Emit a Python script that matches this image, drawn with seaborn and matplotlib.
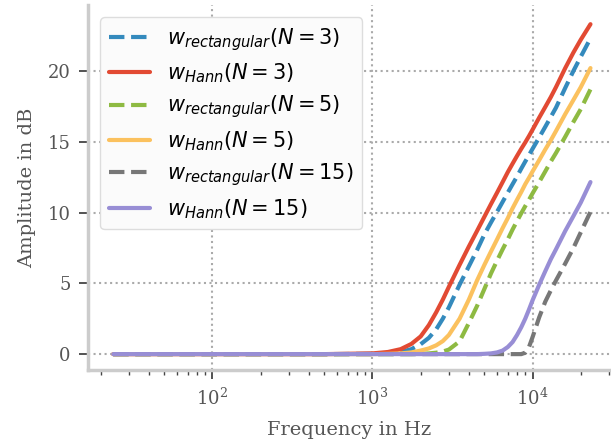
import numpy as np
import pandas as pd
import matplotlib
matplotlib.use("Agg")
import matplotlib.pyplot as plt
import seaborn as sns

# =========================
# DATA
# =========================
freq_hz = [24, 100, 500, 1000, 1250, 1500, 1750, 2000, 2250, 2500, 2750, 3000,
           3500, 4000, 4500, 5000, 5500, 6000, 6500, 7000, 7500, 8000, 8500,
           9000, 9500, 10000, 11000, 12000, 13000, 14000, 16000, 18000, 20000, 23000]

rect_n3 = [0, 0, 0, 0.02, 0.06, 0.15, 0.35, 0.7, 1.15, 1.75, 2.5, 3.3,
           4.9, 6.2, 7.35, 8.45, 9.3, 10.05, 10.75, 11.4, 12.0, 12.55, 13.1,
           13.6, 14.05, 14.5, 15.3, 16.05, 16.75, 17.4, 18.8, 20.0, 21.0, 22.3]
hann_n3 = [0, 0, 0, 0.05, 0.15, 0.35, 0.72, 1.25, 2.05, 2.95, 3.85, 4.75,
           6.3, 7.6, 8.7, 9.7, 10.6, 11.4, 12.15, 12.85, 13.45, 14.0, 14.5,
           14.95, 15.4, 15.85, 16.7, 17.45, 18.15, 18.85, 20.2, 21.3, 22.2, 23.3]
rect_n5 = [0, 0, 0, 0, 0, 0, 0, 0.02, 0.05, 0.1, 0.18, 0.32,
           0.9, 2.2, 3.4, 4.6, 5.7, 6.6, 7.4, 8.1, 8.8, 9.4, 9.95,
           10.45, 10.9, 11.35, 12.15, 12.9, 13.6, 14.2, 15.35, 16.4, 17.3, 18.7]
hann_n5 = [0, 0, 0, 0, 0.02, 0.05, 0.12, 0.25, 0.4, 0.62, 0.92, 1.35,
           2.5, 3.85, 5.2, 6.3, 7.25, 8.1, 8.9, 9.6, 10.3, 10.9, 11.45,
           12.0, 12.45, 12.9, 13.7, 14.45, 15.1, 15.75, 16.95, 17.95, 18.85, 20.2]
rect_n15 = [0, 0, 0, 0, 0, 0, 0, 0, 0, 0, 0, 0,
            0, 0, 0, 0, 0, 0, 0, 0, 0, 0, 0,
            0.1, 0.5, 1.2, 2.6, 3.7, 4.5, 5.2, 6.4, 7.5, 8.6, 10.05]
hann_n15 = [0, 0, 0, 0, 0, 0, 0, 0, 0, 0, 0, 0,
            0, 0, 0, 0.02, 0.05, 0.12, 0.25, 0.5, 0.85, 1.35, 1.9,
            2.5, 3.15, 3.8, 4.9, 5.85, 6.7, 7.4, 8.7, 9.75, 10.7, 12.15]

labels = [r"$w_{rectangular}(N=3)$", r"$w_{Hann}(N=3)$",
          r"$w_{rectangular}(N=5)$", r"$w_{Hann}(N=5)$",
          r"$w_{rectangular}(N=15)$", r"$w_{Hann}(N=15)$"]
series = [rect_n3, hann_n3, rect_n5, hann_n5, rect_n15, hann_n15]
colors = ["#348ABD", "#E24A33", "#8EBA42", "#FBC15E", "#777777", "#988ED5"]
styles = ["--", "-", "--", "-", "--", "-"]

# =========================
# STYLE
# =========================
sns.set_theme(style="ticks")
plt.rcParams["font.family"] = ["DejaVu Serif"]
plt.rcParams["mathtext.fontset"] = "dejavusans"

fig = plt.figure(figsize=(6.11, 4.47), dpi=100)
ax = fig.add_axes([0.144, 0.172, 0.856, 0.817])

for vals, lab, col, ls in zip(series, labels, colors, styles):
    sns.lineplot(x=freq_hz, y=vals, ax=ax, color=col, linestyle=ls,
                 linewidth=3.0, label=lab)

ax.set_xscale("log")
ax.set_xlim(16.7, 30900)
ax.set_ylim(-1.13, 24.66)
ax.set_yticks([0, 5, 10, 15, 20])

ax.grid(True, which="major", linestyle=":", color="#aaaaaa", linewidth=1.5)
ax.set_axisbelow(True)

for side in ["top", "right"]:
    ax.spines[side].set_visible(False)
for side in ["left", "bottom"]:
    ax.spines[side].set_color("#cccccc")
    ax.spines[side].set_linewidth(2.5)

ax.tick_params(axis="both", which="major", labelsize=13, colors="#444444",
               labelcolor="#555555", length=6.5, width=1.3, pad=6)
ax.tick_params(axis="x", which="minor", length=3.5, width=1.0, colors="#444444")

ax.set_xlabel("Frequency in Hz", fontsize=14, color="#555555", labelpad=9)
ax.set_ylabel("Amplitude in dB", fontsize=14, color="#555555", labelpad=8)

leg = ax.legend(loc="upper left", fontsize=15, handlelength=2.0,
                labelspacing=0.42, frameon=True, fancybox=True,
                borderaxespad=0.6, borderpad=0.4)
leg.get_frame().set_edgecolor("#dddddd")
leg.get_frame().set_facecolor("#fbfbfb")
leg.get_frame().set_alpha(1.0)
for t in leg.get_texts():
    t.set_color("black")

fig.savefig("out.png", dpi=100)
